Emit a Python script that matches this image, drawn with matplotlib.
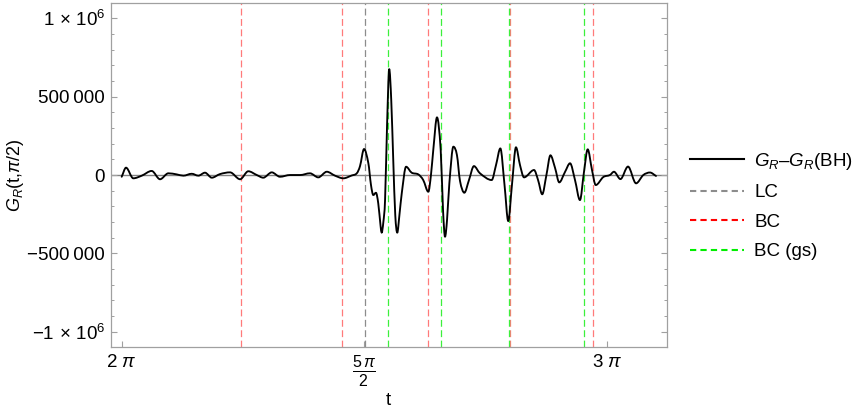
import numpy as np
import matplotlib
matplotlib.use("Agg")
import matplotlib.pyplot as plt
from matplotlib.lines import Line2D
from matplotlib.path import Path
from matplotlib.patches import PathPatch

plt.rcParams['font.family'] = ['Liberation Sans', 'DejaVu Sans']
plt.rcParams['mathtext.fontset'] = 'custom'
plt.rcParams['mathtext.rm'] = 'Liberation Sans'
plt.rcParams['mathtext.it'] = 'Liberation Sans:italic'
plt.rcParams['mathtext.bf'] = 'Liberation Sans:bold'

# ---- data ----
t_vals = [6.283, 6.311, 6.358, 6.413, 6.477, 6.531, 6.585, 6.639, 6.682, 6.736,
          6.779, 6.822, 6.866, 6.919, 6.984, 7.049, 7.102, 7.157, 7.199, 7.254,
          7.307, 7.372, 7.437, 7.501, 7.555, 7.610, 7.663, 7.717, 7.771, 7.804,
          7.825, 7.851, 7.879, 7.896, 7.911, 7.928, 7.943, 7.958, 7.965, 7.976,
          7.987, 8.000, 8.014, 8.027, 8.040, 8.053, 8.066, 8.080, 8.095, 8.123,
          8.159, 8.202, 8.234, 8.267, 8.284, 8.299, 8.323, 8.347, 8.362, 8.375,
          8.388, 8.403, 8.429, 8.452, 8.472, 8.500, 8.530, 8.562, 8.601, 8.677,
          8.705, 8.733, 8.760, 8.784, 8.808, 8.834, 8.860, 8.886, 8.951, 8.977,
          9.004, 9.031, 9.057, 9.087, 9.114, 9.151, 9.184, 9.216, 9.248, 9.274,
          9.298, 9.326, 9.350, 9.399, 9.442, 9.468, 9.510, 9.559, 9.611, 9.658,
          9.701, 9.740]
g_vals = [-11000, 47000, -21000, -4000, 26000, -27000, 11000, 4000, -4000, 8000,
          -4000, 15000, -17000, 6000, 17000, -27000, 24000, 0, -17000, 17000,
          -11000, 0, 0, 11000, -15000, 21000, -4000, -21000, -3000, 11000,
          57000, 166000, 75000, -64000, -128000, -113000, -181000, -325000, -368000, -300000,
          -160000, 319000, 676000, 479000, 96000, -255000, -368000, -255000, -117000, 53000,
          15000, 4000, -32000, -107000, 0, 160000, 368000, 160000, -223000, -394000,
          -287000, -53000, 181000, 128000, -38000, -113000, -32000, 57000, 11000, -32000,
          64000, 170000, -64000, -294000, -64000, 177000, 64000, -15000, 32000, -32000,
          -123000, 0, 126000, 45000, -47000, 19000, 75000, -32000, -160000, 19000,
          164000, 32000, -64000, -13000, 0, 21000, -26000, 54000, -53000, 0,
          16000, -6000]

lc_lines = [7.854]
bc_lines = [7.053, 7.708, 8.263, 8.795, 9.334]
bc_gs_lines = [8.008, 8.349, 8.787, 9.276]

x_ticks = [2 * np.pi, 2.5 * np.pi, 3 * np.pi]
x_ticklabels = [r'2 $\pi$', r'$\frac{5\,\pi}{2}$', r'3 $\pi$']
y_ticks = [-1e6, -5e5, 0, 5e5, 1e6]
y_ticklabels = [r'$-1\,\times\,10^{6}$', '\u2212500\u2009000', '0', '500\u2009000',
                r'$1\,\times\,10^{6}$']

legend_labels = [r'$G_R$–$G_R$(BH)', 'LC', 'BC', 'BC (gs)']


def smooth_path(xs, ys):
    """Smooth cubic Bezier path through the given points (rendering only)."""
    x = np.asarray(xs, float)
    y = np.asarray(ys, float)
    n = len(x)
    m = np.zeros(n)
    for i in range(n):
        if i == 0:
            m[i] = (y[1] - y[0]) / (x[1] - x[0])
        elif i == n - 1:
            m[i] = (y[-1] - y[-2]) / (x[-1] - x[-2])
        else:
            d0 = y[i] - y[i - 1]
            d1 = y[i + 1] - y[i]
            if d0 * d1 <= 0:
                m[i] = 0.0
            else:
                m[i] = (y[i + 1] - y[i - 1]) / (x[i + 1] - x[i - 1])
    verts = [(x[0], y[0])]
    codes = [Path.MOVETO]
    for i in range(n - 1):
        h = x[i + 1] - x[i]
        verts += [(x[i] + h / 3, y[i] + m[i] * h / 3),
                  (x[i + 1] - h / 3, y[i + 1] - m[i + 1] * h / 3),
                  (x[i + 1], y[i + 1])]
        codes += [Path.CURVE4] * 3
    return Path(verts, codes)


# ---- figure ----
fig = plt.figure(figsize=(8.61, 4.11), dpi=100)
ax = fig.add_axes([0.1286, 0.1564, 0.6455, 0.8355])

ax.axhline(0, color='#808080', lw=1.0, zorder=1)

dash = (5.5, 2.8)
for x in lc_lines:
    ax.axvline(x, color='#8c8c8c', lw=0.9, dashes=dash, zorder=2)
for x in bc_lines:
    ax.axvline(x, color='#ff7a7a', lw=0.9, dashes=dash, zorder=2)
for x in bc_gs_lines:
    ax.axvline(x, color='#3cf03c', lw=0.9, dashes=dash, zorder=2)

curve = PathPatch(smooth_path(t_vals, g_vals), fill=False, edgecolor='black',
                  lw=1.35, zorder=3, joinstyle='round', capstyle='round')
ax.add_patch(curve)

ax.set_xlim(6.212, 9.808)
ax.set_ylim(-1.096e6, 1.096e6)

ax.set_xticks(x_ticks)
ax.set_xticklabels(x_ticklabels, fontsize=13.5)
ax.get_xticklabels()[1].set_fontsize(16.5)
ax.set_yticks(y_ticks)
ax.set_yticklabels(y_ticklabels, fontsize=13.5)
ax.set_yticks(np.arange(-1e6, 1.01e6, 1e5), minor=True)

for s in ax.spines.values():
    s.set_color('#a0a0a0')
    s.set_linewidth(0.9)

ax.tick_params(which='major', direction='in', length=4, width=0.8, color='#a0a0a0',
               left=True, right=True, top=False, bottom=True, pad=4)
ax.tick_params(which='minor', direction='in', length=2.2, width=0.7, color='#a0a0a0',
               left=True, right=True, top=False, bottom=False)
ax.tick_params(axis='x', pad=5)

ax.set_xlabel('t', fontsize=13.5)
ax.xaxis.set_label_coords(0.5, -0.157)
ax.xaxis.label.set_va('center')
ax.set_ylabel(r'$G_R$(t,$\pi$/2)', fontsize=13)
ax.yaxis.set_label_coords(-0.172, 0.5)
ax.yaxis.label.set_va('center')

handles = [
    Line2D([], [], color='black', lw=1.5),
    Line2D([], [], color='#8c8c8c', lw=1.5, dashes=(3, 2)),
    Line2D([], [], color='#ff0000', lw=1.5, dashes=(3, 2)),
    Line2D([], [], color='#00ee00', lw=1.5, dashes=(3, 2)),
]
fig.legend(handles, legend_labels, loc='upper left', bbox_to_anchor=(0.801, 0.633),
           frameon=False, fontsize=13.5, handlelength=2.9, handletextpad=0.55,
           labelspacing=0.66, borderpad=0, borderaxespad=0)

fig.savefig('out.png', dpi=100)
